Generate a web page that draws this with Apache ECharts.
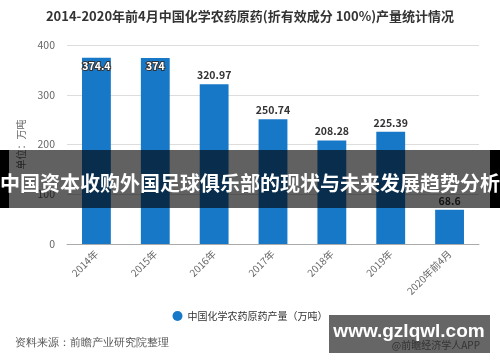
<!DOCTYPE html>
<html>
<head>
<meta charset="utf-8">
<script src="https://cdn.jsdelivr.net/npm/echarts@6/dist/echarts.min.js"></script>
<style>html,body{margin:0;padding:0;background:#fff}#c{width:500px;height:362px}</style>
</head>
<body>
<div id="c"></div>
<script>
const categories = ['2014年','2015年','2016年','2017年','2018年','2019年','2020年前4月'];
const production = [374.4, 374, 320.97, 250.74, 208.28, 225.39, 68.6];
const yTicks = [0, 100, 200, 300, 400];
const titleText = '2014-2020年前4月中国化学农药原药(折有效成分 100%)产量统计情况';
const seriesName = '中国化学农药原药产量（万吨）';
const sourceText = '资料来源：前瞻产业研究院整理';
const bannerText = '中国资本收购外国足球俱乐部的现状与未来发展趋势分析';
const siteText = 'www.gzlqwl.com';

const font = '"Noto Sans CJK SC", "Noto Sans", sans-serif';
const chart = echarts.init(document.getElementById('c'), null, {renderer: 'canvas'});
const insideIdx = [0, 1];
chart.setOption({
  backgroundColor: '#fff',
  textStyle: {fontFamily: font},
  title: {
    text: titleText, left: 'center', top: 5,
    textStyle: {fontSize: 13, fontWeight: 'bold', color: '#333', fontFamily: font}
  },
  grid: {left: 67, right: 21, top: 45, bottom: 118},
  legend: {
    bottom: 36, left: 'center', icon: 'circle', itemWidth: 10, itemHeight: 10,
    textStyle: {fontSize: 10, color: '#333', fontFamily: font}
  },
  xAxis: {
    type: 'category', data: categories,
    axisLine: {lineStyle: {color: '#aaa'}},
    axisTick: {alignWithLabel: true, lineStyle: {color: '#aaa'}},
    axisLabel: {rotate: 45, fontSize: 10, color: '#666', margin: 8, interval: 0}
  },
  yAxis: {
    type: 'value', min: yTicks[0], max: yTicks[yTicks.length - 1], interval: 100,
    name: '单位：万吨', nameLocation: 'middle', nameGap: 40, nameRotate: 90,
    nameTextStyle: {fontSize: 10, color: '#666'},
    axisLine: {show: false}, axisTick: {show: false},
    axisLabel: {fontSize: 10.5, color: '#666', margin: 12},
    splitLine: {lineStyle: {color: '#ddd'}}
  },
  series: [{
    name: seriesName, type: 'bar', barWidth: '49%',
    itemStyle: {color: '#1878c8'},
    data: production.map((v, i) => insideIdx.includes(i) ? {
      value: v,
      label: {position: 'insideTop', distance: 3, color: '#fff', textBorderColor: '#333', textBorderWidth: 2, fontWeight: 'bold'}
    } : v),
    label: {show: true, position: 'top', distance: 4, fontSize: 10.5, color: '#333', fontWeight: 'bold'}
  }],
  graphic: [
    {type: 'text', left: 15, top: 338, style: {text: sourceText, fontSize: 10.5, fill: '#555', font: '10.5px ' + font}},
    {type: 'rect', shape: {x: 0, y: 150, width: 500, height: 58}, style: {fill: 'rgba(0,0,0,0.62)'}, z: 100},
    {type: 'rect', shape: {x: 0, y: 150, width: 9, height: 58}, style: {fill: '#000'}, z: 101},
    {type: 'rect', shape: {x: 490, y: 150, width: 10, height: 58}, style: {fill: '#000'}, z: 101},
    {type: 'text', x: 250, y: 183, z: 102, style: {text: bannerText, fill: '#fff', align: 'center', verticalAlign: 'middle', font: 'bold 20px ' + font}},
    {type: 'rect', shape: {x: 329, y: 315, width: 161, height: 38}, style: {fill: '#666'}, z: 100},
    {type: 'text', x: 480, y: 345, z: 101, style: {text: '@前瞻经济学人APP', fill: '#333', align: 'right', verticalAlign: 'middle', font: '10px ' + font}},
    {type: 'text', x: 409, y: 332, z: 102, style: {text: siteText, fill: '#fff', align: 'center', verticalAlign: 'middle', font: 'bold 19px "Liberation Sans", Arial, sans-serif'}}
  ]
});
</script>
</body>
</html>
